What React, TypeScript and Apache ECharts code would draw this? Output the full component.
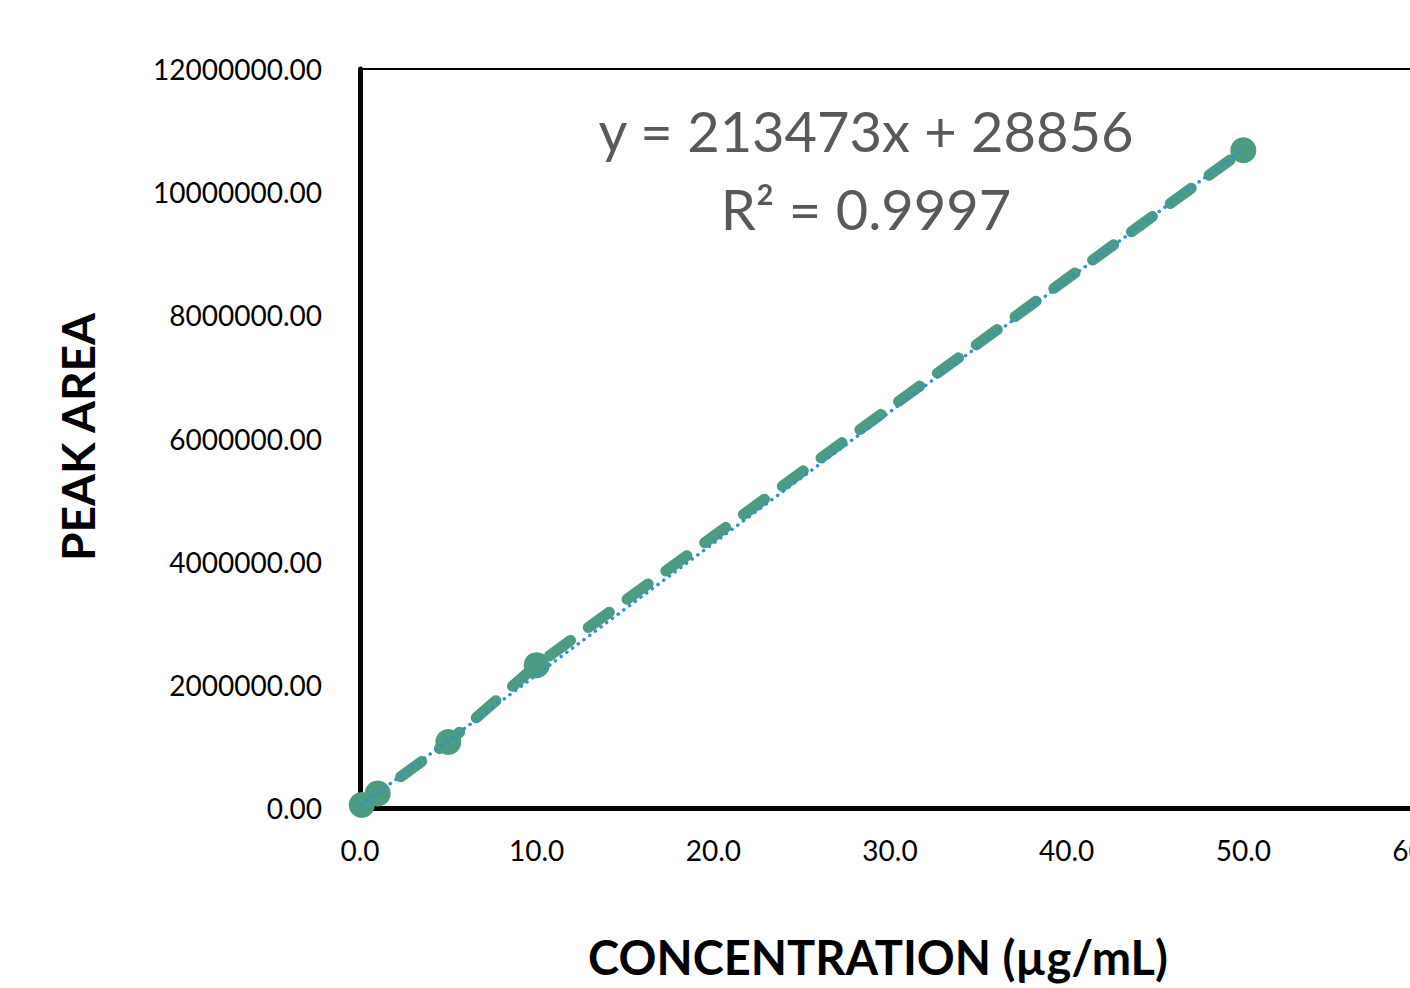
import React, { useEffect, useRef } from "react";
import * as echarts from "echarts";

const concentrations = [0.1, 1, 5, 10, 50];
const peakAreas = [50000, 235000, 1070000, 2320000, 10680000];
const trendX = [0.1, 50];
const trendY = [50203, 10702506];
const xTicks = { min: 0, max: 60, interval: 10 };
const yTicks = { min: 0, max: 12000000, interval: 2000000 };
const equationLines = ["y = 213473x + 28856", "R² = 0.9997"];
const xTitle = "CONCENTRATION (µg/mL)";
const yTitle = "PEAK AREA";

export default function App() {
  const ref = useRef<HTMLDivElement>(null);
  useEffect(() => {
    if (!ref.current) return;
    const chart = echarts.init(ref.current, null, { renderer: "svg" });
    const font = "Lato, 'Open Sans', sans-serif";
    chart.setOption({
      animation: false,
      backgroundColor: "#ffffff",
      grid: {
        left: 360,
        top: 69,
        width: 1060,
        height: 739,
        show: true,
        borderColor: "#000",
        borderWidth: 2,
        containLabel: false,
        outerBoundsMode: "none",
      },
      xAxis: {
        type: "value",
        min: xTicks.min,
        max: xTicks.max,
        interval: xTicks.interval,
        axisLine: { show: true, onZero: false, lineStyle: { color: "#000", width: 5 } },
        axisTick: { show: false },
        splitLine: { show: false },
        axisLabel: {
          margin: 28,
          fontFamily: font,
          fontSize: 28,
          color: "#000",
          formatter: (v: number) => v.toFixed(1),
        },
      },
      yAxis: {
        type: "value",
        min: yTicks.min,
        max: yTicks.max,
        interval: yTicks.interval,
        axisLine: { show: true, onZero: false, lineStyle: { color: "#000", width: 5 } },
        axisTick: { show: false },
        splitLine: { show: false },
        axisLabel: {
          margin: 38,
          fontFamily: font,
          fontSize: 28,
          color: "#000",
          formatter: (v: number) => v.toFixed(2),
        },
      },
      series: [
        {
          type: "line",
          data: concentrations.map((c, i) => [c, peakAreas[i]]),
          symbol: "circle",
          symbolSize: 26,
          itemStyle: { color: "#4C9B82" },
          lineStyle: { color: "#4C9B82", width: 11, type: [26, 22], cap: "round" },
          z: 2,
        },
        {
          type: "line",
          data: trendX.map((c, i) => [c, trendY[i]]),
          symbol: "none",
          lineStyle: { color: "#2F92C9", width: 3.5, type: [0.1, 7], cap: "round" },
          z: 3,
        },
      ],
      graphic: [
        {
          type: "text",
          x: 866,
          y: 130,
          style: {
            text: equationLines[0],
            align: "center",
            verticalAlign: "middle",
            fontFamily: font,
            fontSize: 56,
            fill: "#595959",
          },
        },
        {
          type: "text",
          x: 866,
          y: 208,
          style: {
            text: equationLines[1],
            align: "center",
            verticalAlign: "middle",
            fontFamily: font,
            fontSize: 56,
            fill: "#595959",
          },
        },
        {
          type: "text",
          x: 878,
          y: 957,
          style: {
            text: xTitle,
            align: "center",
            verticalAlign: "middle",
            fontFamily: font,
            fontWeight: "bold",
            fontSize: 47,
            fill: "#000",
          },
        },
        {
          type: "text",
          x: 77,
          y: 437,
          rotation: Math.PI / 2,
          style: {
            text: yTitle,
            align: "center",
            verticalAlign: "middle",
            fontFamily: font,
            fontWeight: "bold",
            fontSize: 46,
            fill: "#000",
          },
        },
      ],
    });
    return () => chart.dispose();
  }, []);
  return (
    <div
      ref={ref}
      style={{ position: "fixed", left: 0, top: 0, width: 1410, height: 988, overflow: "hidden" }}
    />
  );
}
